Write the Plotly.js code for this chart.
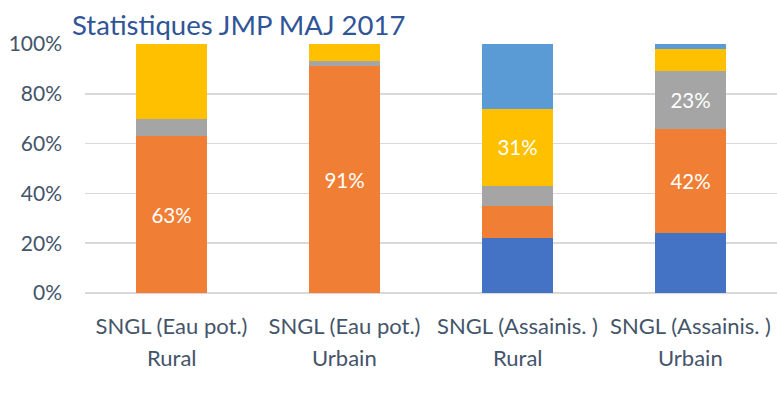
<!DOCTYPE html>
<html>
<head>
<meta charset="utf-8">
<script src="https://cdn.plot.ly/plotly-3.0.1.min.js"></script>
<style>
html,body{margin:0;padding:0;background:#fff;}
#chart{width:777px;height:416px;}
</style>
</head>
<body>
<div id="chart"></div>
<script>
// Data (percent of each bar)
var categories = ['SNGL (Eau pot.) Rural', 'SNGL (Eau pot.) Urbain', 'SNGL (Assainis. ) Rural', 'SNGL (Assainis. ) Urbain'];
var groupLabels = ['SNGL (Eau pot.)', 'SNGL (Eau pot.)', 'SNGL (Assainis. )', 'SNGL (Assainis. )'];
var zoneLabels = ['Rural', 'Urbain', 'Rural', 'Urbain'];

var seriesNames = ['S1', 'S2', 'S3', 'S4', 'S5'];
var s1 = [0, 0, 22, 24];
var s2 = [63, 91, 13, 42];
var s3 = [7, 2, 8, 23];
var s4 = [30, 7, 31, 9];
var s5 = [0, 0, 26, 2];
// which values are labelled in the picture
var s1Labels = ['', '', '', ''];
var s2Labels = ['63%', '91%', '', '42%'];
var s3Labels = ['', '', '', '23%'];
var s4Labels = ['', '', '31%', ''];
var s5Labels = ['', '', '', ''];

var yTickVals = [0, 20, 40, 60, 80, 100];
var yTickText = ['0%', '20%', '40%', '60%', '80%', '100%'];

var colors = ['#4472C4', '#F07F35', '#A5A5A5', '#FFC000', '#5B9BD5'];
var seriesVals = [s1, s2, s3, s4, s5];
var seriesLabels = [s1Labels, s2Labels, s3Labels, s4Labels, s5Labels];

var FONT = 'Lato, "Open Sans", sans-serif';
var AXIS_COLOR = '#44546A';

var traces = seriesVals.map(function (vals, i) {
  return {
    type: 'bar',
    name: seriesNames[i],
    x: categories,
    y: vals,
    text: seriesLabels[i],
    textposition: 'inside',
    insidetextanchor: 'middle',
    textangle: 0,
    constraintext: 'none',
    textfont: {family: FONT, size: 20.5, color: '#ffffff'},
    marker: {color: colors[i], line: {width: 0}},
    hoverinfo: 'skip'
  };
});

var annotations = categories.map(function (c, i) {
  return {
    x: c, xref: 'x', y: 0, yref: 'paper',
    yshift: -64, yanchor: 'middle',
    text: zoneLabels[i], showarrow: false,
    font: {family: FONT, size: 22, color: AXIS_COLOR}
  };
});
annotations.push({
  x: 0, xref: 'paper', xanchor: 'left', xshift: -15,
  y: 1, yref: 'paper', yanchor: 'bottom', yshift: 1,
  text: 'Statistiques JMP MAJ 2017', showarrow: false,
  font: {family: FONT, size: 27.5, color: '#2F5597'}
});

var layout = {
  width: 777, height: 416,
  margin: {l: 85, r: 0, t: 44, b: 123, pad: 0},
  paper_bgcolor: '#ffffff', plot_bgcolor: '#ffffff',
  barmode: 'stack',
  bargap: 0.595,
  showlegend: false,
  xaxis: {
    type: 'category',
    tickvals: categories,
    ticktext: groupLabels,
    tickfont: {family: FONT, size: 22, color: AXIS_COLOR},
    ticks: '', showgrid: false, zeroline: false, showline: false,
    ticklabelstandoff: 18,
    fixedrange: true
  },
  yaxis: {
    range: [0, 100],
    tickvals: yTickVals,
    ticktext: yTickText,
    tickfont: {family: FONT, size: 21, color: AXIS_COLOR},
    showgrid: true, gridcolor: '#D9D9D9', gridwidth: 1.5,
    zeroline: true, zerolinecolor: '#D9D9D9', zerolinewidth: 1.5,
    ticks: '', ticklabelstandoff: 22,
    showline: false, fixedrange: true
  },
  annotations: annotations
};

Plotly.newPlot('chart', traces, layout, {displayModeBar: false, staticPlot: true});
</script>
</body>
</html>
